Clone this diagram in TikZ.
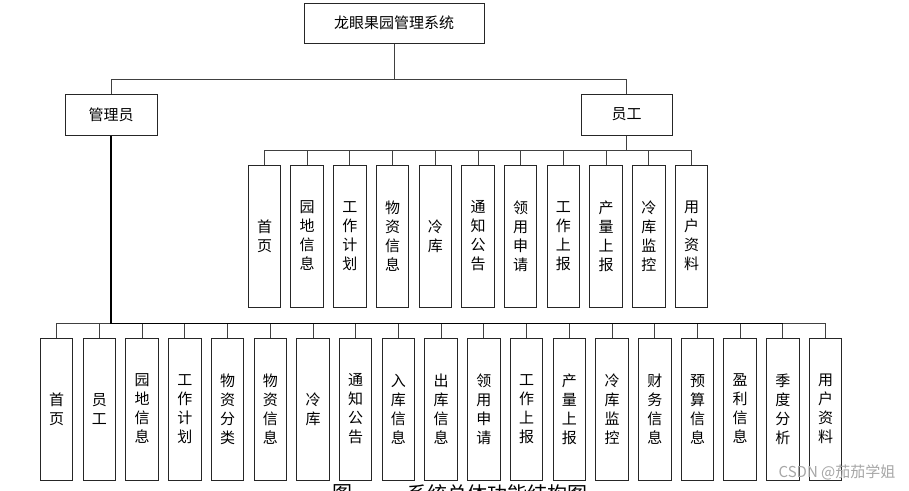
\documentclass[tikz,border=0pt]{standalone}
\usepackage{fontspec}
\newfontfamily\cjk{Noto Sans CJK SC}
\begin{document}
\begin{tikzpicture}[x=1pt,y=-1pt,
  box/.style={draw=black!85,line width=1pt,fill=white,inner sep=0pt,font=\cjk\fontsize{15}{16}\selectfont},
  leaf/.style={box,minimum width=32.5pt,align=center,font=\cjk\fontsize{15}{19}\selectfont},
  conn/.style={draw=black!75,line width=1pt},
  boldconn/.style={draw=black,line width=1.8pt}]
\useasboundingbox (0,0) rectangle (909,490);
\clip (0,0) rectangle (909,490);

\node[box,minimum width=180pt,minimum height=40pt] (root) at (394,23) {龙眼果园管理系统};
\node[box,minimum width=92pt,minimum height=41pt] (admin) at (111,114.5) {管理员};
\node[box,minimum width=91pt,minimum height=41pt] (staff) at (626.5,114.5) {员工};

\draw[conn] (root.south) -- ++(0,36) coordinate (rb);
\draw[conn] (rb) -| (admin.north);
\draw[conn] (rb) -| (staff.north);

% staff leaves
\foreach \t [count=\i] in {首\\页,园\\地\\信\\息,工\\作\\计\\划,物\\资\\信\\息,冷\\库,通\\知\\公\\告,领\\用\\申\\请,工\\作\\上\\报,产\\量\\上\\报,冷\\库\\监\\控,用\\户\\资\\料}{
  \node[leaf,minimum height=142pt] (s\i) at ({264.5+42.7*(\i-1)},236) {\t};
}
\draw[conn] (staff.south) -- ++(0,15) coordinate (sb);
\foreach \i in {1,...,11}{
  \draw[conn] (sb) -| (s\i.north);
}

% admin leaves
\foreach \t [count=\i] in {首\\页,员\\工,园\\地\\信\\息,工\\作\\计\\划,物\\资\\分\\类,物\\资\\信\\息,冷\\库,通\\知\\公\\告,入\\库\\信\\息,出\\库\\信\\息,领\\用\\申\\请,工\\作\\上\\报,产\\量\\上\\报,冷\\库\\监\\控,财\\务\\信\\息,预\\算\\信\\息,盈\\利\\信\\息,季\\度\\分\\析,用\\户\\资\\料}{
  \node[leaf,minimum height=142pt] (a\i) at ({56.7+42.72*(\i-1)},409) {\t};
}
\path (admin.south) ++(0,188) coordinate (ab);
\foreach \i in {1,...,19}{
  \draw[conn] (ab) -| (a\i.north);
}
\draw[boldconn] (admin.south) -- (ab);
\draw[boldconn] (ab) -- (ab -| a18.north);

% caption (cut off at the bottom edge, as in the reference)
\node[anchor=north,inner sep=0pt,font=\cjk\fontsize{20}{20}\selectfont] (cap1) at (342,484) {图};
\node[anchor=north,inner sep=0pt,font=\cjk\fontsize{20}{20}\selectfont] (cap2) at (497,484) {系统总体功能结构图};

% watermark
\node[inner sep=0pt,text=black!35,font=\cjk\fontsize{15}{15}\selectfont] (wm) at (837,472) {CSDN @茄茄学姐};
\end{tikzpicture}
\end{document}
